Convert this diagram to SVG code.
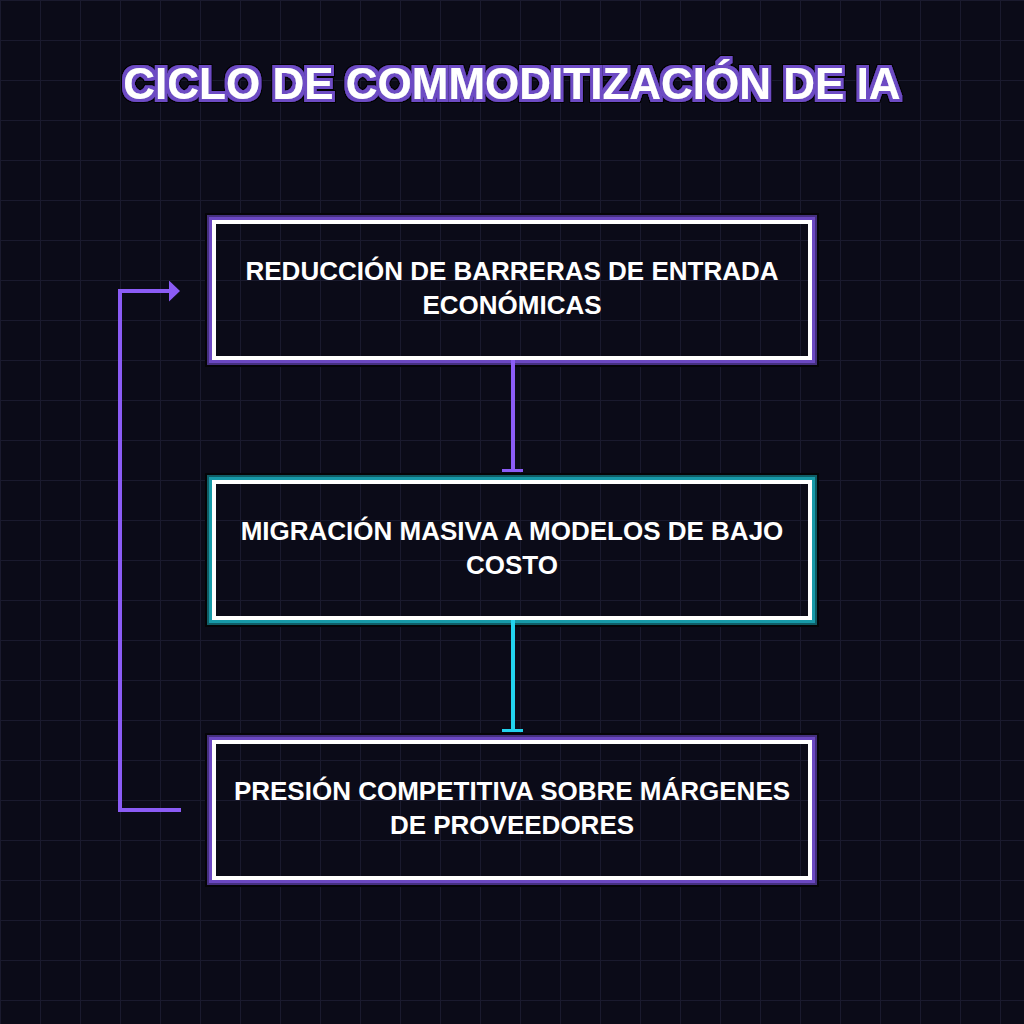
<svg xmlns="http://www.w3.org/2000/svg" width="1024" height="1024" viewBox="0 0 1024 1024">
  <defs>
    <pattern id="grid" width="40" height="40" patternUnits="userSpaceOnUse">
      <path d="M40 0H0V40" fill="none" stroke="#1a1a2e" stroke-width="2"/>
    </pattern>
    <filter id="titleGlow" x="-10%" y="-50%" width="120%" height="200%">
      <feMorphology in="SourceAlpha" operator="dilate" radius="4" result="d1"/>
      <feFlood flood-color="#000000" result="c1"/>
      <feComposite in="c1" in2="d1" operator="in" result="o1"/>
      <feMorphology in="SourceAlpha" operator="dilate" radius="2.5" result="d2"/>
      <feFlood flood-color="#6d4bc4" result="c2"/>
      <feComposite in="c2" in2="d2" operator="in" result="o2"/>
      <feMerge>
        <feMergeNode in="o1"/>
        <feMergeNode in="o2"/>
        <feMergeNode in="SourceGraphic"/>
      </feMerge>
    </filter>
    <marker id="bar-purple" markerWidth="22" markerHeight="4" refX="11" refY="2" orient="0" markerUnits="userSpaceOnUse">
      <rect x="0" y="0" width="21" height="3" fill="#8b5cf6"/>
    </marker>
    <marker id="bar-cyan" markerWidth="22" markerHeight="4" refX="11" refY="2" orient="0" markerUnits="userSpaceOnUse">
      <rect x="0" y="0" width="21" height="3" fill="#22d3ee"/>
    </marker>
    <marker id="arrow" markerWidth="12" markerHeight="22" refX="1" refY="10.5" orient="auto" markerUnits="userSpaceOnUse">
      <path d="M0 0L11 10.5L0 21Z" fill="#8b5cf6"/>
    </marker>
    <style>
      .title { font-family: "Liberation Sans", Arial, sans-serif; font-weight: bold; font-size: 44px; fill: #ffffff; }
      .label { font-family: "Liberation Sans", Arial, sans-serif; font-weight: bold; font-size: 26px; fill: #ffffff; text-anchor: middle; }
      .b0 { fill: none; stroke: #050508; stroke-width: 7; }
      .b1p { fill: none; stroke: #45307f; stroke-width: 2; }
      .b2p { fill: none; stroke: #6b48c2; stroke-width: 3; }
      .b1c { fill: none; stroke: #0f5d66; stroke-width: 2; }
      .b2c { fill: none; stroke: #179aa8; stroke-width: 3; }
      .b3 { fill: none; stroke: #ffffff; stroke-width: 4; }
      .edge { fill: none; stroke-width: 4; }
    </style>
  </defs>

  <rect width="1024" height="1024" fill="#0b0b18"/>
  <rect width="1024" height="1024" fill="url(#grid)"/>

  <text id="title" class="title" x="512" y="99" text-anchor="middle" filter="url(#titleGlow)">CICLO DE COMMODITIZACIÓN DE IA</text>

  <g id="node1">
    <rect class="b0" x="208.5" y="216.5" width="607" height="147"/>
    <rect class="b1p" x="208" y="216" width="608" height="148"/>
    <rect class="b2p" x="210.5" y="218.5" width="603" height="143"/>
    <rect class="b3" x="214" y="222" width="596" height="136"/>
    <text class="label" x="512" y="280">REDUCCIÓN DE BARRERAS DE ENTRADA</text>
    <text class="label" x="512" y="314">ECONÓMICAS</text>
  </g>

  <g id="node2">
    <rect class="b0" x="208.5" y="476.5" width="607" height="147"/>
    <rect class="b1c" x="208" y="476" width="608" height="148"/>
    <rect class="b2c" x="210.5" y="478.5" width="603" height="143"/>
    <rect class="b3" x="214" y="482" width="596" height="136"/>
    <text class="label" x="512" y="540">MIGRACIÓN MASIVA A MODELOS DE BAJO</text>
    <text class="label" x="512" y="574">COSTO</text>
  </g>

  <g id="node3">
    <rect class="b0" x="208.5" y="736.5" width="607" height="147"/>
    <rect class="b1p" x="208" y="736" width="608" height="148"/>
    <rect class="b2p" x="210.5" y="738.5" width="603" height="143"/>
    <rect class="b3" x="214" y="742" width="596" height="136"/>
    <text class="label" x="512" y="800">PRESIÓN COMPETITIVA SOBRE MÁRGENES</text>
    <text class="label" x="512" y="834">DE PROVEEDORES</text>
  </g>

  <g id="connectors">
    <path class="edge" d="M513 360V471" stroke="#8b5cf6" marker-end="url(#bar-purple)"/>
    <path class="edge" d="M513 620V731" stroke="#22d3ee" marker-end="url(#bar-cyan)"/>
    <path class="edge" d="M181 810H120V291H170" stroke="#8b5cf6" marker-end="url(#arrow)"/>
  </g>
</svg>
